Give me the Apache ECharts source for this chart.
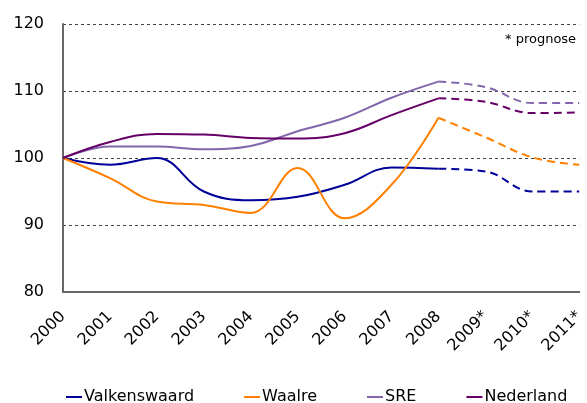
<!DOCTYPE html>
<html>
<head>
<meta charset="utf-8">
<script src="https://cdn.jsdelivr.net/npm/echarts@6/dist/echarts.min.js"></script>
<style>
html, body { margin: 0; padding: 0; background: #fff; }
#chart { width: 587px; height: 403px; }
</style>
</head>
<body>
<div id="chart"></div>
<script>
// categories and values
const years = ['2000', '2001', '2002', '2003', '2004', '2005', '2006', '2007', '2008', '2009*', '2010*', '2011*'];
const valkenswaard = [100, 99, 100, 95, 93.7, 94.2, 96, 98.6, 98.4, 98, 95, 95];
const waalre = [100, 97, 93.5, 93, 91.8, 98.5, 91, 96, 106, 103.1, 100.1, 99];
const sre = [100, 101.7, 101.7, 101.3, 101.8, 104, 106, 109, 111.4, 110.6, 108.2, 108.2];
const nederland = [100, 102.4, 103.6, 103.5, 103, 102.9, 103.7, 106.4, 108.9, 108.4, 106.7, 106.8];
const lastActual = 8; // 2008, after this it is prognose

const regions = [
    { name: 'Valkenswaard', data: valkenswaard, color: '#000099' },
    { name: 'Waalre', data: waalre, color: '#ff8000' },
    { name: 'SRE', data: sre, color: '#8366ab' },
    { name: 'Nederland', data: nederland, color: '#660066' }
];

let chart = echarts.init(document.getElementById('chart'));

let series = [];
regions.forEach(r => {
    let solid = r.data.map((v, i) => i <= lastActual ? v : '-');
    let dashed = r.data.map((v, i) => i >= lastActual ? v : '-');
    series.push({
        name: r.name,
        type: 'line',
        smooth: 0.4,
        symbol: 'none',
        data: solid,
        itemStyle: { color: r.color },
        lineStyle: { color: r.color, width: 2 }
    });
    series.push({
        name: r.name,
        type: 'line',
        smooth: 0.4,
        symbol: 'none',
        data: dashed,
        itemStyle: { color: r.color },
        lineStyle: { color: r.color, width: 2, type: [8, 5] }
    });
});

chart.setOption({
    backgroundColor: '#ffffff',
    animation: false,
    textStyle: { fontFamily: 'DejaVu Sans' },
    grid: {
        left: 63,
        top: 24,
        width: 525,
        height: 268
    },
    legend: {
        data: regions.map(r => r.name),
        left: 61,
        top: 384,
        itemWidth: 16,
        itemHeight: 2,
        itemGap: 50,
        icon: 'rect',
        textStyle: { fontSize: 16, color: '#000', padding: [0, 0, 0, -3] }
    },
    graphic: [{
        type: 'text',
        left: 505,
        top: 33,
        style: { text: '* prognose', fontSize: 13, fill: '#000', fontFamily: 'DejaVu Sans' }
    }],
    xAxis: {
        type: 'category',
        boundaryGap: false,
        data: years,
        axisLine: { lineStyle: { color: '#666', width: 2 } },
        axisTick: { show: false },
        axisLabel: { rotate: 45, fontSize: 16, color: '#000', margin: 22, interval: 0 }
    },
    yAxis: {
        type: 'value',
        min: 80,
        max: 120,
        interval: 10,
        axisLine: { show: true, lineStyle: { color: '#666', width: 2 } },
        axisTick: { show: false },
        axisLabel: { fontSize: 16, color: '#000', margin: 19 },
        splitLine: { lineStyle: { color: '#444', width: 1, type: [3, 3] } }
    },
    series: series
});
</script>
</body>
</html>
